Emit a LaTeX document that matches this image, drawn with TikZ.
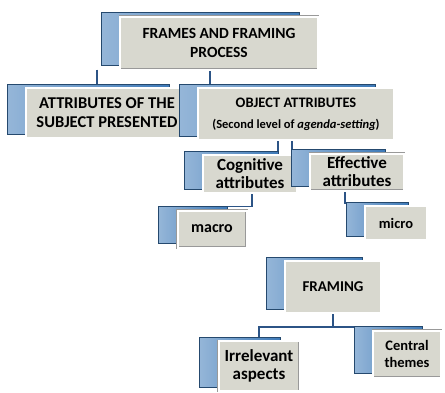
\documentclass[tikz,border=0pt]{standalone}
\usepackage{fontspec}
\setmainfont{Carlito}
\usetikzlibrary{shadows, backgrounds}

\definecolor{facegray}{RGB}{216,216,207}
\definecolor{slabblue}{RGB}{62,122,184}
\definecolor{linkblue}{RGB}{44,84,134}

\newcommand{\fsz}[2]{\fontsize{#1}{#2}\selectfont\bfseries}

\tikzset{
  slab/.style={draw=gray!80, double=white, double distance=2pt, fill=facegray,
    align=center, inner sep=2pt, text=black,
    general shadow={left color=slabblue!55!white, right color=slabblue,
      draw=slabblue!60!black, rounded corners=3pt,
      shadow xshift=-19pt, shadow yshift=4pt}},
  link/.style={linkblue, line width=1.6pt},
}

\begin{document}
\begin{tikzpicture}[x=1pt, y=-1pt]
  \useasboundingbox (0,0) rectangle (445,392);

  % --- Kopf ---
  \node[slab, minimum width=198pt, minimum height=53pt, font=\fsz{15.5}{19}]
    (frames) at (219,43) {FRAMES AND FRAMING\\PROCESS};

  % --- Zweite Ebene ---
  \node[slab, minimum width=162pt, minimum height=50pt, font=\fsz{16.5}{19}]
    (subject) at (107,113) {ATTRIBUTES OF THE\\SUBJECT PRESENTED};
  \node[slab, minimum width=196pt, minimum height=52pt, font=\fsz{14.5}{21}]
    (object) at (296,114) {OBJECT ATTRIBUTES\\{\fsz{12.5}{14}(Second level of \textit{agenda-setting})}};

  % --- Attribute ---
  \node[slab, minimum width=94pt, minimum height=38pt, font=\fsz{17}{18}]
    (cog) at (250,174) {Cognitive\\attributes};
  \node[slab, minimum width=94pt, minimum height=37pt, font=\fsz{17}{18}]
    (eff) at (357,172) {Effective\\attributes};
  \node[slab, minimum width=69pt, minimum height=37pt, font=\fsz{16}{17}]
    (macro) at (212,229) {macro};
  \node[slab, minimum width=62pt, minimum height=34pt, font=\fsz{14.5}{15}]
    (micro) at (396,223) {micro};

  % --- Framing ---
  \node[slab, minimum width=96pt, minimum height=52pt, font=\fsz{15}{16}]
    (framing) at (333,287) {FRAMING};
  \node[slab, minimum width=81pt, minimum height=50pt, font=\fsz{17}{18}]
    (irrel) at (259,366) {Irrelevant\\aspects};
  \node[slab, minimum width=68pt, minimum height=47pt, font=\fsz{14.5}{17}]
    (central) at (407,354) {Central\\themes};

  % --- Verbindungen ---
  \begin{scope}[on background layer]
    \draw[link] ([xshift=-10pt]subject.north |- frames.south) -- ([xshift=-10pt]subject.north);
    \draw[link] ([xshift=-9pt]frames.south) -- ([xshift=-9pt]frames.south |- object.north);
    \draw[link] ([xshift=-18pt]object.south) -- ([xshift=-18pt]object.south |- cog.north);
    \draw[link] ([xshift=-4pt]object.south) |- ([yshift=4pt]eff.north);
    \draw[link] ([xshift=2pt]cog.south) |- ([yshift=4pt]macro.north);
    \draw[link] ([xshift=-12pt]eff.south) |- ([yshift=3pt]micro.north);
    \draw[link] (framing.south) -- ++(0,14) -| (irrel.north);
    \draw[link] (framing.south) -- ++(0,14) -| (central.north);
  \end{scope}
\end{tikzpicture}
\end{document}
